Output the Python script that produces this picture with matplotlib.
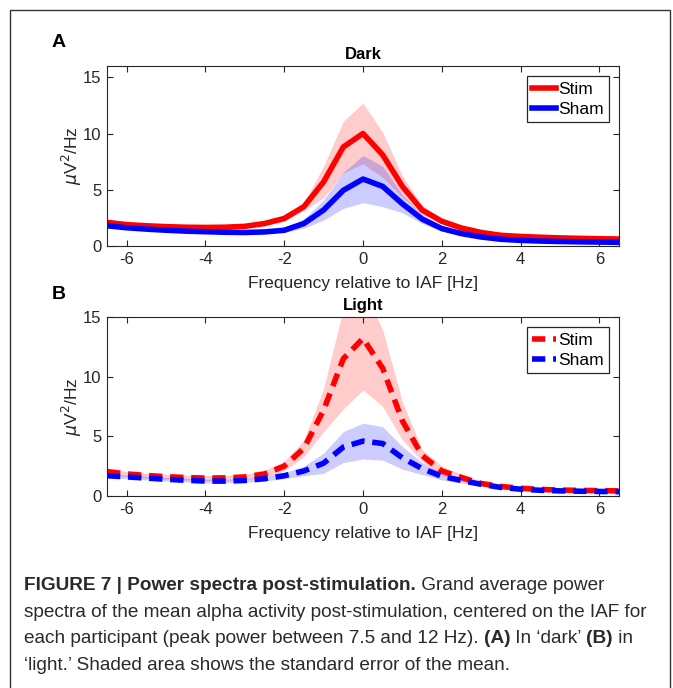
import matplotlib
matplotlib.use("Agg")
import matplotlib.pyplot as plt
from matplotlib.patches import Rectangle
import numpy as np

plt.rcParams['font.family'] = ['Liberation Sans', 'DejaVu Sans']
plt.rcParams['axes.unicode_minus'] = False

# frequency relative to IAF (Hz)
freqs = [-6.5, -6.0, -5.5, -5.0, -4.5, -4.0, -3.5, -3.0, -2.5, -2.0, -1.5, -1.0, -0.5,
         0.0, 0.5, 1.0, 1.5, 2.0, 2.5, 3.0, 3.5, 4.0, 4.5, 5.0, 5.5, 6.0, 6.5]

# Dark condition (mean and SEM)
dark_stim = [2.1, 1.9, 1.8, 1.72, 1.67, 1.65, 1.67, 1.75, 2.0, 2.45, 3.5, 5.7, 8.8,
             10.0, 8.1, 5.3, 3.2, 2.2, 1.6, 1.2, 0.95, 0.85, 0.78, 0.72, 0.68, 0.65, 0.62]
dark_stim_sem = [0.15, 0.15, 0.15, 0.15, 0.15, 0.15, 0.15, 0.15, 0.18, 0.25, 0.35, 1.4, 2.3,
                 2.7, 2.0, 0.95, 0.4, 0.25, 0.2, 0.15, 0.12, 0.1, 0.1, 0.1, 0.1, 0.1, 0.1]
dark_sham = [1.8, 1.62, 1.5, 1.4, 1.32, 1.27, 1.22, 1.2, 1.25, 1.4, 2.0, 3.2, 4.95,
             5.95, 5.3, 3.75, 2.4, 1.55, 1.1, 0.8, 0.6, 0.5, 0.44, 0.4, 0.37, 0.35, 0.33]
dark_sham_sem = [0.12, 0.12, 0.12, 0.12, 0.12, 0.12, 0.12, 0.12, 0.14, 0.2, 0.4, 0.9, 1.6,
                 2.1, 1.8, 0.8, 0.4, 0.2, 0.15, 0.12, 0.1, 0.08, 0.08, 0.08, 0.08, 0.08, 0.08]

# Light condition (mean and SEM)
light_stim = [2.05, 1.85, 1.72, 1.62, 1.55, 1.5, 1.52, 1.6, 1.85, 2.5, 4.0, 7.2, 11.5,
              13.2, 10.7, 6.3, 3.4, 2.1, 1.55, 1.05, 0.8, 0.65, 0.55, 0.5, 0.47, 0.45, 0.43]
light_stim_sem = [0.2, 0.2, 0.2, 0.2, 0.2, 0.2, 0.2, 0.22, 0.3, 0.4, 0.7, 1.8, 4.2,
                  4.3, 3.2, 1.6, 0.5, 0.4, 0.3, 0.2, 0.15, 0.12, 0.1, 0.1, 0.1, 0.1, 0.1]
light_sham = [1.7, 1.6, 1.5, 1.4, 1.32, 1.25, 1.25, 1.3, 1.45, 1.7, 2.1, 2.75, 4.1,
              4.6, 4.4, 3.2, 2.3, 1.65, 1.3, 0.98, 0.72, 0.57, 0.48, 0.43, 0.4, 0.38, 0.36]
light_sham_sem = [0.15, 0.15, 0.15, 0.15, 0.15, 0.15, 0.15, 0.15, 0.18, 0.25, 0.4, 0.85, 1.3,
                  1.5, 1.4, 0.95, 0.5, 0.3, 0.2, 0.15, 0.12, 0.1, 0.1, 0.1, 0.1, 0.1, 0.1]

x_ticks = [-6, -4, -2, 0, 2, 4, 6]
axis_col = '#262626'

fig = plt.figure(figsize=(6.73, 6.88), dpi=100)

# frame around the whole figure
fig.add_artist(Rectangle((10 / 673, -0.1), 660 / 673, 1.1 - 10 / 688,
                         transform=fig.transFigure, fill=False, lw=1.0, ec='#333333'))


def panel(ax, stim, stim_sem, sham, sham_sem, ymax, yticks, style, title):
    x = np.array(freqs)
    for m, s, c in [(stim, stim_sem, 'red'), (sham, sham_sem, 'blue')]:
        m = np.array(m)
        s = np.array(s)
        ax.fill_between(x, m - s, m + s, color=c, alpha=0.2, lw=0)
    ls = '-' if style == 'solid' else (0, (2.4, 1.4))
    ax.plot(x, stim, color='red', lw=4, ls=ls, label='Stim')
    ax.plot(x, sham, color='blue', lw=4, ls=ls, label='Sham')
    ax.set_xlim(-6.5, 6.5)
    ax.set_ylim(0, ymax)
    ax.set_xticks(x_ticks)
    ax.set_yticks(yticks)
    ax.tick_params(direction='in', top=True, right=True, length=4, width=0.8,
                   colors=axis_col, labelsize=12, pad=4)
    for sp in ax.spines.values():
        sp.set_color(axis_col)
        sp.set_linewidth(0.8)
    ax.set_xlabel('Frequency relative to IAF [Hz]', fontsize=12.5, color=axis_col, labelpad=7)
    ax.set_ylabel(r'$\mu$V$^2$/Hz', fontsize=12.5, color=axis_col, labelpad=-1)
    ax.set_title(title, fontsize=12, fontweight='bold', pad=5)
    leg = ax.legend(loc='upper right', fontsize=12.5, fancybox=False, edgecolor=axis_col,
                    framealpha=1, handlelength=1.4, handletextpad=0.1, borderpad=0.3,
                    labelspacing=0.3, borderaxespad=0.6)
    leg.get_frame().set_linewidth(0.9)


ax1 = fig.add_axes([107 / 673, 1 - 246 / 688, 512 / 673, 180 / 688])
panel(ax1, dark_stim, dark_stim_sem, dark_sham, dark_sham_sem, 16, [0, 5, 10, 15], 'solid', 'Dark')

ax2 = fig.add_axes([107 / 673, 1 - 496 / 688, 512 / 673, 179 / 688])
panel(ax2, light_stim, light_stim_sem, light_sham, light_sham_sem, 15, [0, 5, 10, 15], 'dashed', 'Light')

fig.text(52 / 673, 1 - 47 / 688, 'A', fontsize=14, fontweight='bold')
fig.text(52 / 673, 1 - 299 / 688, 'B', fontsize=14, fontweight='bold')

# caption, mixing bold and regular pieces on a line
caption = [
    [('FIGURE 7 | Power spectra post-stimulation.', 'bold'), (' Grand average power', 'normal')],
    [('spectra of the mean alpha activity post-stimulation, centered on the IAF for', 'normal')],
    [('each participant (peak power between 7.5 and 12 Hz). ', 'normal'), ('(A)', 'bold'),
     (' In \u2018dark\u2019 ', 'normal'), ('(B)', 'bold'), (' in', 'normal')],
    [('\u2018light.\u2019 Shaded area shows the standard error of the mean.', 'normal')],
]
baselines = [590, 617, 643, 670]
renderer = fig.canvas.get_renderer()
for line, yb in zip(caption, baselines):
    xpos = 24
    for txt, w in line:
        t = fig.text(xpos / 673, 1 - yb / 688, txt, fontsize=13.7, fontweight=w,
                     color='#2a2a2a', va='baseline')
        bb = t.get_window_extent(renderer)
        xpos = bb.x1

fig.savefig('out.png', dpi=100)
